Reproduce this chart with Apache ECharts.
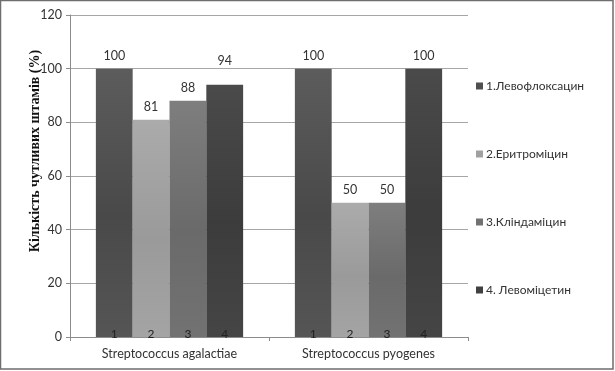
<!DOCTYPE html>
<html>
<head>
<meta charset="utf-8">
<script src="https://cdn.jsdelivr.net/npm/echarts@6/dist/echarts.min.js"></script>
<style>
html,body{margin:0;padding:0;background:#fff;}
#chart{width:615px;height:371px;}
</style>
</head>
<body>
<div id="chart"></div>
<script>
const categories = ['Streptococcus agalactiae', 'Streptococcus pyogenes'];
const seriesNames = ['1.Левофлоксацин', '2.Еритроміцин', '3.Кліндаміцин', '4. Левоміцетин'];
const barNumbers = ['1', '2', '3', '4'];
const levofloxacin = [100, 100];
const erythromycin = [81, 50];
const clindamycin = [88, 50];
const levomycetin = [94, 100];
const yTicks = [0, 20, 40, 60, 80, 100, 120];
const yTitle = 'Кількість чутливих штамів (%)';

const values = [levofloxacin, erythromycin, clindamycin, levomycetin];
const colorStops = [
  ['#5c5c5c', '#494949', '#555555'],
  ['#ababab', '#9a9a9a', '#a4a4a4'],
  ['#7e7e7e', '#6a6a6a', '#727272'],
  ['#4a4a4a', '#3c3c3c', '#454545']
];
const legendColors = ['#4f4f4f', '#a0a0a0', '#727272', '#404040'];

function grad(c) {
  return new echarts.graphic.LinearGradient(0, 0, 0, 1, [
    {offset: 0, color: c[0]}, {offset: 0.55, color: c[1]}, {offset: 1, color: c[2]}
  ]);
}

const chart = echarts.init(document.getElementById('chart'), null, {renderer: 'canvas'});
const font = 'Lato, "Liberation Sans", sans-serif';

const series = values.map((vals, i) => ({
  name: seriesNames[i],
  type: 'bar',
  data: vals.map((v, j) => {
    const d = {value: v};
    if (i === 3 && j === 0) d.label = {distance: 17};
    return d;
  }),
  barGap: '0%',
  barCategoryGap: '26%',
  itemStyle: {color: grad(colorStops[i])},
  label: {
    show: true, position: 'top', distance: 6,
    color: '#333', fontFamily: font, fontSize: 12.5
  },
  markPoint: {
    symbol: 'circle', symbolSize: 0, silent: true,
    label: {
      show: true, position: 'inside', offset: [0, -3],
      color: '#222', fontFamily: font, fontSize: 12,
      formatter: barNumbers[i]
    },
    data: categories.map((c, j) => ({coord: [j, 0]}))
  }
}));

chart.setOption({
  animation: false,
  backgroundColor: '#fff',
  grid: {left: 70, right: 147, top: 15, bottom: 34, containLabel: false},
  legend: {
    orient: 'vertical', left: 471, top: 75,
    itemWidth: 7, itemHeight: 7, itemGap: 56,
    icon: 'rect',
    textStyle: {color: '#333', fontFamily: font, fontSize: 12, padding: [0, 0, 0, -2]},
    data: seriesNames.map((n, i) => ({name: n, itemStyle: {color: legendColors[i]}}))
  },
  xAxis: {
    type: 'category', data: categories,
    axisLine: {lineStyle: {color: '#8c8c8c', width: 1}},
    axisTick: {show: true, length: 4, lineStyle: {color: '#8c8c8c'}},
    axisLabel: {color: '#333', fontFamily: font, fontSize: 12.5, margin: 10}
  },
  yAxis: {
    type: 'value', min: yTicks[0], max: yTicks[yTicks.length - 1], interval: 20,
    axisLine: {show: true, lineStyle: {color: '#8c8c8c', width: 1}},
    axisTick: {show: true, length: 4, lineStyle: {color: '#8c8c8c'}},
    splitLine: {lineStyle: {color: '#a6a6a6', width: 1}},
    axisLabel: {color: '#333', fontFamily: font, fontSize: 12.5, margin: 8}
  },
  graphic: [
    {
      type: 'rect', silent: true, z: 100,
      shape: {x: 0.5, y: 0.5, width: 612.5, height: 368.5},
      style: {fill: 'none', stroke: '#6e6e6e', lineWidth: 1.5}
    },
    {
      type: 'text', silent: true,
      x: 35, y: 151, rotation: Math.PI / 2,
      style: {
        text: yTitle, fill: '#111',
        font: 'bold 14px "Liberation Serif", "Times New Roman", serif',
        align: 'center', verticalAlign: 'middle'
      }
    }
  ],
  series: series
});
</script>
</body>
</html>
